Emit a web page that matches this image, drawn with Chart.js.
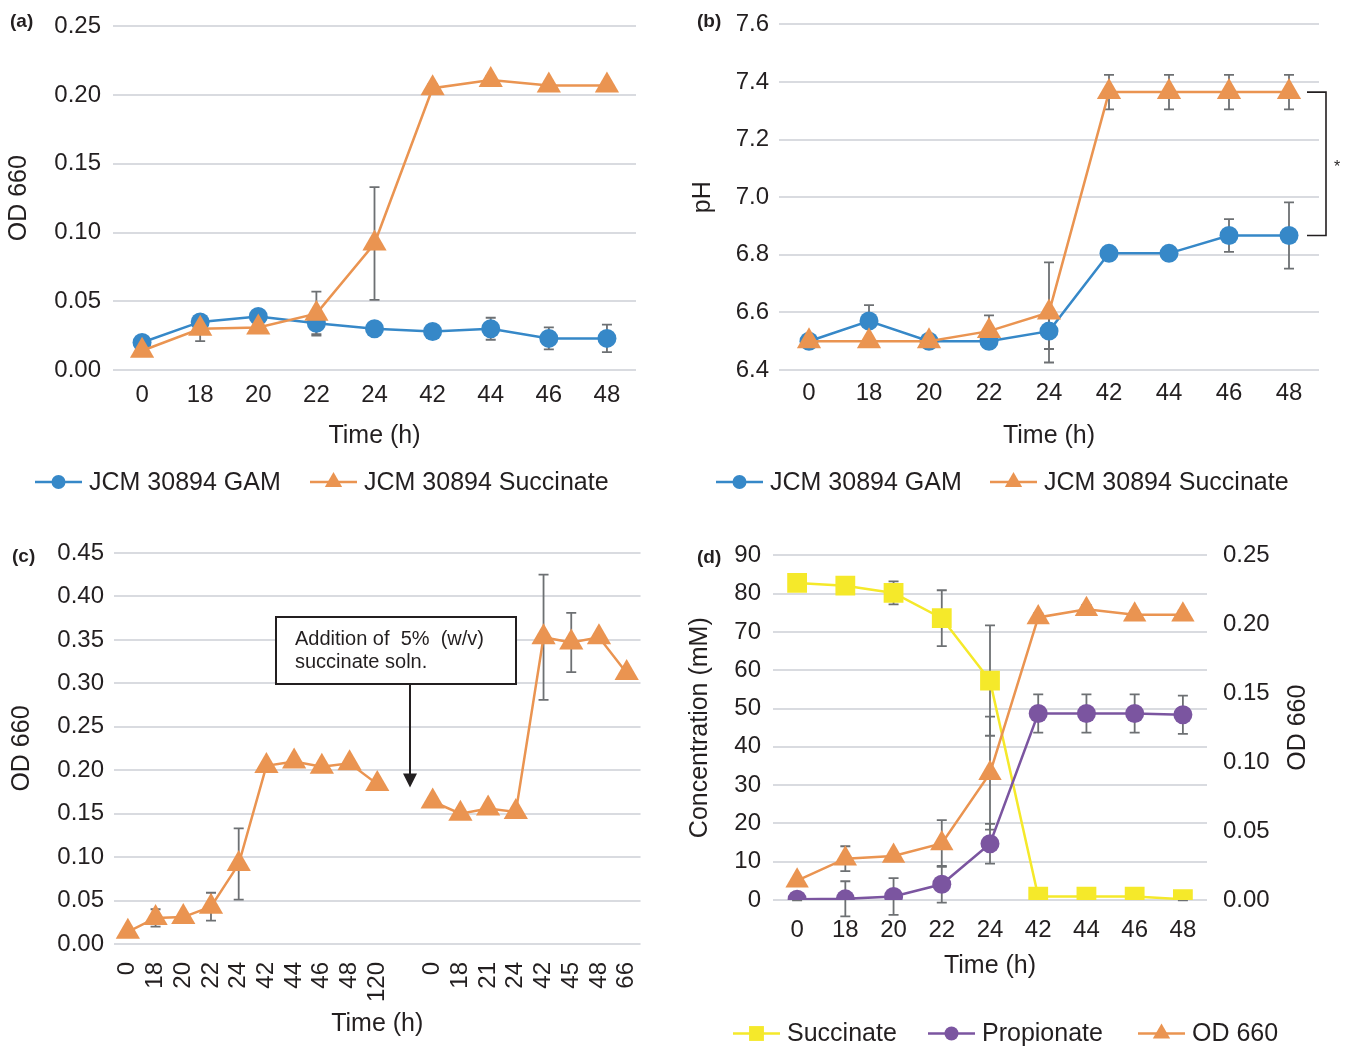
<!DOCTYPE html>
<html>
<head>
<meta charset="utf-8">
<script src="https://cdn.jsdelivr.net/npm/chart.js@4.4.3/dist/chart.umd.min.js"></script>
<style>
  body { margin: 0; background: #fff; }
  #fig { position: relative; width: 1349px; height: 1049px; font-family: "Liberation Sans", Arial, sans-serif; color: #231f20; }
  canvas { position: absolute; }
  .tag { position: absolute; font-weight: bold; font-size: 19px; line-height: 1; }
</style>
</head>
<body>
<div id="fig">
  <canvas id="chartA" width="660" height="525" style="left:0;top:0"></canvas>
  <canvas id="chartB" width="679" height="525" style="left:670px;top:0"></canvas>
  <canvas id="chartC" width="674" height="524" style="left:0;top:525px"></canvas>
  <canvas id="chartD" width="679" height="524" style="left:670px;top:525px"></canvas>
  <div class="tag" style="left:10px;top:11px">(a)</div>
  <div class="tag" style="left:697px;top:11px">(b)</div>
  <div class="tag" style="left:12px;top:546px">(c)</div>
  <div class="tag" style="left:697px;top:547px">(d)</div>
</div>
<script>
// ---- data ----
const timeLabels = ["0", "18", "20", "22", "24", "42", "44", "46", "48"];

// (a) OD 660
const gamOD = [0.020, 0.035, 0.039, 0.034, 0.030, 0.028, 0.030, 0.023, 0.023];
const gamODErr = [0.002, 0.002, 0.002, 0.008, 0.002, 0.002, 0.008, 0.008, 0.010];
const sucOD = [0.014, 0.030, 0.031, 0.041, 0.092, 0.205, 0.211, 0.207, 0.207];
const sucODErr = [0.002, 0.009, 0.002, 0.016, 0.041, 0.003, 0.003, 0.003, 0.003];

// (b) pH
const gamPH = [6.50, 6.57, 6.50, 6.50, 6.535, 6.805, 6.805, 6.867, 6.867];
const gamPHErr = [0.005, 0.055, 0.005, 0.005, 0.062, 0.005, 0.005, 0.057, 0.115];
const sucPH = [6.50, 6.50, 6.50, 6.535, 6.60, 7.365, 7.365, 7.365, 7.365];
const sucPHErr = [0.005, 0.005, 0.005, 0.055, 0.174, 0.06, 0.06, 0.06, 0.06];

// (c) OD 660, two cultures separated by an empty slot
const feedLabels = ["0", "18", "20", "22", "24", "42", "44", "46", "48", "120", "",
                    "0", "18", "21", "24", "42", "45", "48", "66"];
const feedOD = [0.014, 0.030, 0.031, 0.043, 0.092, 0.205, 0.210, 0.204, 0.208, 0.184, null,
                0.164, 0.150, 0.156, 0.152, 0.353, 0.347, 0.353, 0.312];
const feedODErr = [0.002, 0.010, 0.003, 0.016, 0.041, 0.003, 0.003, 0.003, 0.003, 0.003, null,
                   0.004, 0.003, 0.003, 0.004, 0.072, 0.034, 0.004, 0.003];

// (d) concentrations (mM) and OD 660
const succinate = [82.8, 82.1, 80.2, 73.6, 57.3, 0.9, 0.9, 0.9, 0.2];
const succinateErr = [0.5, 2.0, 3.0, 7.3, 14.4, 0.3, 0.3, 0.3, 0.3];
const propionate = [0.2, 0.3, 0.9, 4.1, 14.7, 48.7, 48.7, 48.7, 48.4];
const propionateErr = [0.3, 4.6, 4.8, 4.8, 5.2, 5.0, 5.0, 5.0, 5.0];
const odD = [0.014, 0.030, 0.032, 0.041, 0.092, 0.205, 0.211, 0.207, 0.207];
const odDErr = [0.002, 0.009, 0.002, 0.017, 0.041, 0.003, 0.003, 0.003, 0.003];

// ---- styles ----
const BLUE = "#3688c8";
const ORANGE = "#ea9451";
const YELLOW = "#f5e92a";
const PURPLE = "#7b55a0";
const GRID = "#d9dbe0";
const INK = "#231f20";
const ERR = "#6d7073";
const FONT = '"Liberation Sans", Arial, sans-serif';

Chart.defaults.font.family = FONT;
Chart.defaults.color = INK;
Chart.defaults.animation = false;
Chart.defaults.events = [];
Chart.defaults.plugins.legend.display = false;
Chart.defaults.plugins.tooltip.enabled = false;

// vertical error bars, drawn under the markers
const errorBars = {
    id: "errorBars",
    beforeDatasetsDraw(chart) {
        const ctx = chart.ctx;
        chart.data.datasets.forEach((ds, i) => {
            if (!ds.errors) return;
            const meta = chart.getDatasetMeta(i);
            const yScale = chart.scales[meta.yAxisID];
            ctx.save();
            ctx.strokeStyle = ERR;
            ctx.lineWidth = 1.8;
            meta.data.forEach((pt, j) => {
                const v = ds.data[j];
                const e = ds.errors[j];
                if (v == null || !e) return;
                const top = yScale.getPixelForValue(v + e);
                const bot = yScale.getPixelForValue(v - e);
                ctx.beginPath();
                ctx.moveTo(pt.x, top);
                ctx.lineTo(pt.x, bot);
                ctx.moveTo(pt.x - 5, top);
                ctx.lineTo(pt.x + 5, top);
                ctx.moveTo(pt.x - 5, bot);
                ctx.lineTo(pt.x + 5, bot);
                ctx.stroke();
            });
            ctx.restore();
        });
    }
};

// Excel-like legend: short line with the marker in the middle
const lineLegend = {
    id: "lineLegend",
    afterDraw(chart, args, opts) {
        if (!opts.xs) return;
        const ctx = chart.ctx;
        ctx.save();
        ctx.font = "25px " + FONT;
        ctx.textBaseline = "middle";
        opts.order.forEach((dsIndex, k) => {
            const ds = chart.data.datasets[dsIndex];
            const x = opts.xs[k];
            ctx.strokeStyle = ds.borderColor;
            ctx.lineWidth = 2.5;
            ctx.beginPath();
            ctx.moveTo(x, opts.y);
            ctx.lineTo(x + 47, opts.y);
            ctx.stroke();
            ctx.fillStyle = ds.borderColor;
            Chart.helpers.drawPoint(ctx, {
                pointStyle: ds.pointStyle,
                radius: opts.radius[ds.pointStyle],
                rotation: 0,
                borderWidth: 0
            }, x + 23.5, opts.y);
            ctx.fillStyle = INK;
            ctx.fillText(ds.label, x + 54, opts.y + 1);
        });
        ctx.restore();
    }
};

// significance bracket with asterisk (panel b)
const sigBracket = {
    id: "sigBracket",
    afterDatasetsDraw(chart, args, opts) {
        if (!opts.values) return;
        const ctx = chart.ctx;
        const ca = chart.chartArea;
        const y = chart.scales.y;
        const y1 = y.getPixelForValue(opts.values[0]);
        const y2 = y.getPixelForValue(opts.values[1]);
        const xr = ca.right + 7;
        const xl = ca.right - 12;
        ctx.save();
        ctx.strokeStyle = INK;
        ctx.lineWidth = 1.6;
        ctx.beginPath();
        ctx.moveTo(xl, y1);
        ctx.lineTo(xr, y1);
        ctx.lineTo(xr, y2);
        ctx.lineTo(xl, y2);
        ctx.stroke();
        ctx.fillStyle = INK;
        ctx.font = "16px " + FONT;
        ctx.textAlign = "center";
        ctx.textBaseline = "middle";
        ctx.fillText("*", xr + 11, (y1 + y2) / 2 + 4);
        ctx.restore();
    }
};

// text box with arrow pointing at the feeding slot (panel c)
const noteArrow = {
    id: "noteArrow",
    afterDatasetsDraw(chart, args, opts) {
        if (!opts.lines) return;
        const ctx = chart.ctx;
        const ca = chart.chartArea;
        const bx = ca.left + opts.box[0];
        const by = ca.top + opts.box[1];
        const bw = opts.box[2];
        const bh = opts.box[3];
        ctx.save();
        ctx.fillStyle = "#fff";
        ctx.fillRect(bx, by, bw, bh);
        ctx.strokeStyle = INK;
        ctx.lineWidth = 2;
        ctx.strokeRect(bx, by, bw, bh);
        ctx.fillStyle = INK;
        ctx.font = "20px " + FONT;
        ctx.textBaseline = "middle";
        opts.lines.forEach((t, i) => ctx.fillText(t, bx + 19, by + 22 + i * 23));
        const ax = chart.scales.x.getPixelForValue(opts.at) + opts.dx;
        const tip = chart.scales.y.getPixelForValue(opts.tip);
        ctx.beginPath();
        ctx.moveTo(ax, by + bh);
        ctx.lineTo(ax, tip - 12);
        ctx.stroke();
        ctx.beginPath();
        ctx.moveTo(ax - 7, tip - 14);
        ctx.lineTo(ax + 7, tip - 14);
        ctx.lineTo(ax, tip);
        ctx.closePath();
        ctx.fill();
        ctx.restore();
    }
};

// right axis title reading bottom-to-top (panel d)
const rightTitle = {
    id: "rightTitle",
    afterDraw(chart, args, opts) {
        if (!opts.text) return;
        const ctx = chart.ctx;
        const s = chart.scales[opts.axis];
        const ca = chart.chartArea;
        ctx.save();
        ctx.translate(s.right - 15, (ca.top + ca.bottom) / 2);
        ctx.rotate(-Math.PI / 2);
        ctx.font = "25px " + FONT;
        ctx.fillStyle = INK;
        ctx.textAlign = "center";
        ctx.textBaseline = "middle";
        ctx.fillText(opts.text, 0, 0);
        ctx.restore();
    }
};

Chart.register(errorBars, lineLegend, sigBracket, noteArrow, rightTitle);

function yAxis({ min, max, step, width, pad, title, titlePad, decimals, position = "left", grid = true }) {
    return {
        position,
        min,
        max,
        afterFit: s => { s.width = width; },
        border: { display: false },
        grid: { display: grid, color: GRID, lineWidth: 2, drawTicks: false },
        ticks: {
            stepSize: step,
            padding: pad,
            font: { size: 24 },
            color: INK,
            callback: v => Number(v).toFixed(decimals)
        },
        title: title
            ? { display: true, text: title, font: { size: 25 }, color: INK, padding: { top: titlePad, bottom: 0 } }
            : { display: false }
    };
}

function xAxis({ height, pad, rotate = false }) {
    return {
        type: "category",
        offset: true,
        afterFit: s => { s.height = height; },
        border: { display: false },
        grid: { display: false, drawTicks: false },
        ticks: {
            padding: pad,
            font: { size: 24 },
            color: INK,
            autoSkip: false,
            maxRotation: rotate ? 90 : 0,
            minRotation: rotate ? 90 : 0
        },
        title: { display: true, text: "Time (h)", font: { size: 25 }, color: INK, padding: 0 }
    };
}

function series(label, data, errors, color, style, radius, order, yAxisID = "y") {
    return {
        label,
        data,
        errors,
        yAxisID,
        order,
        borderColor: color,
        backgroundColor: color,
        borderWidth: 2.5,
        pointStyle: style,
        pointRadius: radius,
        pointBackgroundColor: color,
        pointBorderWidth: 0,
        tension: 0,
        spanGaps: false
    };
}

const legendRadius = { circle: 7, triangle: 10, rect: 10.5 };

// (a)
new Chart(document.getElementById("chartA"), {
    type: "line",
    data: {
        labels: timeLabels,
        datasets: [
            series("JCM 30894 GAM", gamOD, gamODErr, BLUE, "circle", 9.5, 1),
            series("JCM 30894 Succinate", sucOD, sucODErr, ORANGE, "triangle", 14, 0)
        ]
    },
    options: {
        responsive: false,
        layout: { padding: { left: 0, top: 21, right: 24, bottom: 74 } },
        scales: {
            x: xAxis({ height: 81, pad: 11 }),
            y: yAxis({ min: 0, max: 0.25, step: 0.05, width: 113, pad: 12, title: "OD 660", titlePad: 4, decimals: 2 })
        },
        plugins: {
            lineLegend: { xs: [35, 310], y: 482, order: [0, 1], radius: legendRadius }
        }
    }
});

// (b)
new Chart(document.getElementById("chartB"), {
    type: "line",
    data: {
        labels: timeLabels,
        datasets: [
            series("JCM 30894 GAM", gamPH, gamPHErr, BLUE, "circle", 9.5, 1),
            series("JCM 30894 Succinate", sucPH, sucPHErr, ORANGE, "triangle", 14, 0)
        ]
    },
    options: {
        responsive: false,
        layout: { padding: { left: 0, top: 21, right: 30, bottom: 74 } },
        scales: {
            x: xAxis({ height: 81, pad: 9 }),
            y: yAxis({ min: 6.4, max: 7.6, step: 0.2, width: 109, pad: 10, title: "pH", titlePad: 18, decimals: 1 })
        },
        plugins: {
            lineLegend: { xs: [46, 320], y: 482, order: [0, 1], radius: legendRadius },
            sigBracket: { values: [sucPH[8], gamPH[8]] }
        }
    }
});

// (c)
new Chart(document.getElementById("chartC"), {
    type: "line",
    data: {
        labels: feedLabels,
        datasets: [
            series("OD 660", feedOD, feedODErr, ORANGE, "triangle", 14, 0)
        ]
    },
    options: {
        responsive: false,
        layout: { padding: { left: 0, top: 28, right: 20, bottom: 10 } },
        scales: {
            x: xAxis({ height: 95, pad: 18, rotate: true }),
            y: yAxis({ min: 0, max: 0.45, step: 0.05, width: 114, pad: 10, title: "OD 660", titlePad: 7, decimals: 2 })
        },
        plugins: {
            noteArrow: {
                lines: ["Addition of  5%  (w/v)", "succinate soln."],
                box: [162, 64, 240, 67],
                at: 10,
                dx: 5,
                tip: 0.18
            }
        }
    }
});

// (d)
new Chart(document.getElementById("chartD"), {
    type: "line",
    data: {
        labels: timeLabels,
        datasets: [
            series("Succinate", succinate, succinateErr, YELLOW, "rect", 14, 2),
            series("Propionate", propionate, propionateErr, PURPLE, "circle", 9.5, 1),
            series("OD 660", odD, odDErr, ORANGE, "triangle", 13.5, 0, "y1")
        ]
    },
    options: {
        responsive: false,
        layout: { padding: { left: 0, top: 28, right: 36, bottom: 68 } },
        scales: {
            x: xAxis({ height: 81, pad: 16 }),
            y: yAxis({ min: 0, max: 90, step: 10, width: 103, pad: 12, title: "Concentration (mM)", titlePad: 15, decimals: 0 }),
            y1: yAxis({ min: 0, max: 0.25, step: 0.05, width: 106, pad: 16, decimals: 2, position: "right", grid: false })
        },
        plugins: {
            lineLegend: { xs: [63, 258, 468], y: 508.5, order: [0, 1, 2], radius: legendRadius },
            rightTitle: { text: "OD 660", axis: "y1" }
        }
    }
});
</script>
</body>
</html>
